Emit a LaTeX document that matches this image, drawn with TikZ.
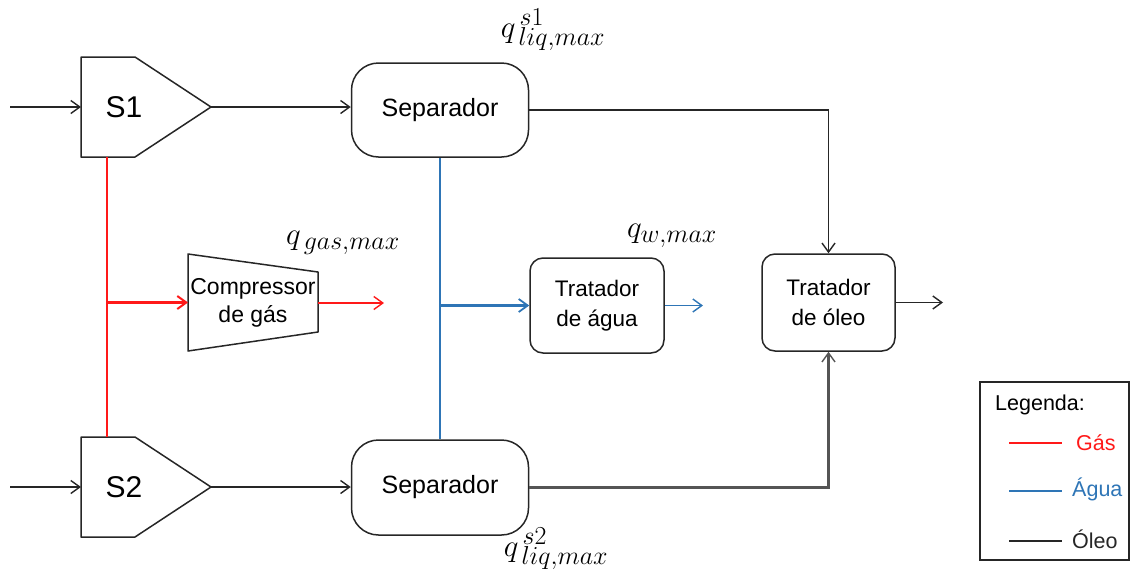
\documentclass[tikz,border=0pt]{standalone}
\usepackage[no-math]{fontspec}
\setmainfont{Liberation Sans}
\usetikzlibrary{arrows.meta,calc}
\DeclareMathSizes{25}{24.88}{20.74}{14.4}

\definecolor{linegray}{RGB}{38,38,38}
\definecolor{oilgray}{RGB}{85,85,85}
\definecolor{gasred}{RGB}{255,25,25}
\definecolor{waterblue}{RGB}{46,117,182}

\newcommand\caplabel[1]{\scalebox{1.25}{$#1$}}

\tikzset{
  flow/.style={draw=linegray, line width=1.6pt},
  tip/.style={-{Straight Barb[length=9pt,width=13pt,line width=1.4pt]}},
  outline/.style={draw=linegray, line width=1.5pt, line join=round},
  area/.style={inner sep=0pt, outer sep=0pt},
  treatbox/.style={draw=linegray, line width=1.5pt, rounded corners=13pt, align=center,
    inner sep=0pt, font=\fontsize{22.5}{30}\selectfont},
  sepnode/.style={draw=linegray, line width=1.5pt, rounded corners=27pt, inner sep=0pt,
    minimum width=177pt, font=\fontsize{25}{29}\selectfont},
  gasline/.style={draw=gasred, line width=1.6pt},
  waterline/.style={draw=waterblue, line width=1.7pt},
  mathlbl/.style={font=\fontsize{25}{29}\selectfont, inner sep=0pt},
  legtext/.style={anchor=west, inner sep=0pt, font=\fontsize{21.5}{25}\selectfont},
}

\begin{document}
\begin{tikzpicture}[x=1pt,y=1pt]
\useasboundingbox (0,0) rectangle (1132,-574);

% inlet mixers S1 and S2
\node[area, minimum width=130pt, minimum height=100pt] (s1) at (146,-107) {};
\draw[outline] (s1.north west) -- ++(54,0) -- (s1.east) -- ($(s1.south west)+(54,0)$) -- (s1.south west) -- cycle;
\node[font=\fontsize{30}{36}\selectfont] (s1lbl) at ($(s1.center)+(-22,0)$) {S1};

\node[area, minimum width=130pt, minimum height=100pt] (s2) at (146,-487) {};
\draw[outline] (s2.north west) -- ++(54,0) -- (s2.east) -- ($(s2.south west)+(54,0)$) -- (s2.south west) -- cycle;
\node[font=\fontsize{30}{36}\selectfont] (s2lbl) at ($(s2.center)+(-22,0)$) {S2};

\coordinate (in1) at (10,-107);
\coordinate (in2) at (10,-487);

% separators
\node[sepnode, minimum height=94pt] (sep1) at (440,-110) {Separador};
\node[sepnode, minimum height=95pt] (sep2) at (440,-487.5) {Separador};

% gas compressor
\node[area, minimum width=130pt, minimum height=97pt, align=center,
      font=\fontsize{23}{28}\selectfont] (comp) at (253,-302.5) {Compressor\\de gás};
\draw[outline] (comp.north west) -- ($(comp.north east)+(0,-18)$) -- ($(comp.south east)+(0,19)$) -- (comp.south west) -- cycle;

% treaters
\node[treatbox, minimum width=134pt, minimum height=95pt] (tagua) at (597,-305.5) {Tratador\\de água};
\node[treatbox, minimum width=133pt, minimum height=97pt] (toleo) at (828.5,-302.5) {Tratador\\de óleo};

% outlets
\coordinate (gasout) at (384,-303);
\coordinate (waterout) at (703,-305.5);
\coordinate (oilout) at (943,-302.5);

% gas branch points
\coordinate (g1) at (107,-157);
\coordinate (g2) at (107,-437);

% black feed lines
\draw[flow,tip] (in1) -- (s1.west);
\draw[flow,tip] (in2) -- (s2.west);
\draw[flow,tip] (s1.east) -- (s1.east -| sep1.west);
\draw[flow,tip] (s2.east) -- (s2.east -| sep2.west);

% oil lines
\draw[flow,tip] (sep1.east) -| (toleo.north);
\draw[flow,draw=oilgray,line width=2.2pt,-{Straight Barb[length=9pt,width=13pt,line width=1.4pt]}] (sep2.east) -| (toleo.south);
\draw[flow,tip] (toleo.east) -- (oilout);

% gas lines
\draw[gasline] (g1) -- (g2);
\draw[gasline,line width=2.6pt,-{Straight Barb[length=9pt,width=13pt,line width=2pt]}] (g1 |- comp.west) -- (comp.west);
\draw[gasline,tip] (comp.east |- gasout) -- (gasout);

% water lines
\draw[waterline] (sep1.south) -- (sep2.north);
\draw[waterline,line width=2.2pt,-{Straight Barb[length=9pt,width=13pt,line width=1.8pt]}] (sep1.south |- tagua.west) -- (tagua.west);
\draw[waterline,tip] (tagua.east) -- (waterout);

% capacity labels
\node[mathlbl] (qs1) at (553,-30) {\caplabel{q^{\,s1}_{\,liq,max}}};
\node[mathlbl] (qgas) at (343,-243) {\caplabel{q_{\,gas,max}}};
\node[mathlbl] (qw) at (672,-236) {\caplabel{q_{w,max}}};
\node[mathlbl] (qs2) at (556,-549) {\caplabel{q^{\,s2}_{\,liq,max}}};

% legend
\node[draw=linegray, line width=1.5pt, area, minimum width=149pt, minimum height=178pt, anchor=north west] (leg) at (980,-382) {};
\node[legtext] (legtitle) at (995,-405) {Legenda:};
\coordinate (lg1) at (1009,-443); \coordinate (lg2) at (1062,-443);
\coordinate (lw1) at (1009,-491); \coordinate (lw2) at (1062,-491);
\coordinate (lo1) at (1009,-541); \coordinate (lo2) at (1062,-541);
\draw[gasline] (lg1) -- (lg2);
\draw[waterline] (lw1) -- (lw2);
\draw[flow] (lo1) -- (lo2);
\node[legtext, text=gasred] (leggas) at (1076,-443) {Gás};
\node[legtext, text=waterblue] (legwater) at (1072,-489) {Água};
\node[legtext, text=linegray] (legoil) at (1072,-539) {Óleo};
\end{tikzpicture}
\end{document}
